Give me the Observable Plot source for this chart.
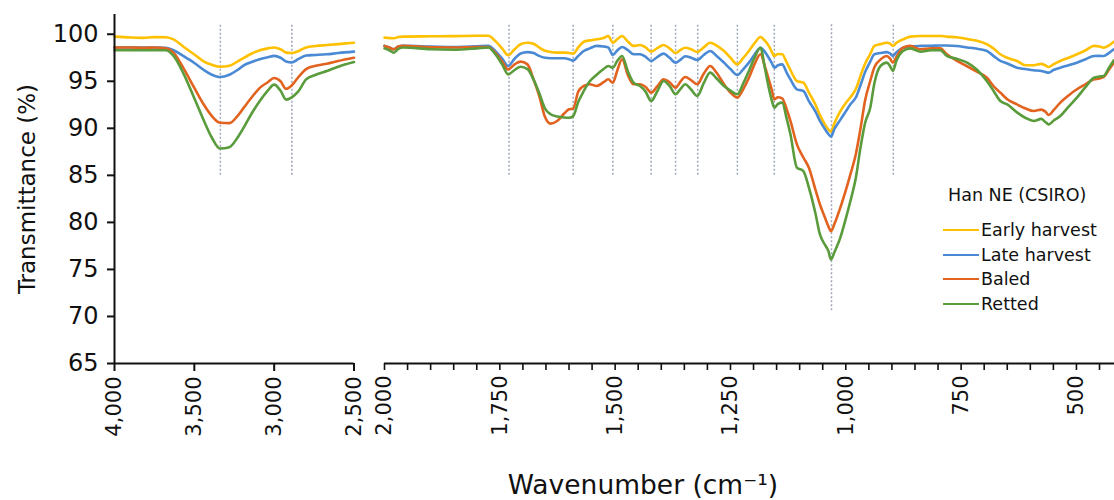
<!DOCTYPE html>
<html><head><meta charset="utf-8">
<script src="https://cdn.jsdelivr.net/npm/d3@7"></script>
<script src="https://cdn.jsdelivr.net/npm/@observablehq/plot@0.6"></script>
<style>
html,body{margin:0;padding:0;background:#fff;}
#chart{position:relative;width:1114px;height:500px;font-family:"DejaVu Sans",sans-serif;color:#111;overflow:hidden;}
#left{position:absolute;left:0;top:0;}
#right{position:absolute;left:374px;top:0;}
.ylab{position:absolute;left:27px;top:189px;transform:translate(-50%,-50%) rotate(-90deg);font-size:23px;white-space:nowrap;}
.xlab{position:absolute;left:643px;top:484px;transform:translate(-50%,-50%);font-size:26.5px;white-space:nowrap;}
.lg{position:absolute;font-size:17.5px;white-space:nowrap;line-height:1;}
.sw{display:inline-block;width:36px;height:2px;vertical-align:middle;margin-right:2px;position:relative;top:-1px;}
</style></head><body>
<div id="chart">
  <div id="left"></div>
  <div id="right"></div>
  <div class="ylab">Transmittance (%)</div>
  <div class="xlab">Wavenumber (cm⁻¹)</div>
  <div id="legend"></div>
</div>
<script>
// ---------- data ----------
const seriesNames = ["Early harvest", "Late harvest", "Baled", "Retted"];
const seriesColors = ["#FFC000", "#4A8AD4", "#E2631F", "#5A9B3C"];
const legendTitle = "Han NE (CSIRO)";

const yTicks = [65, 70, 75, 80, 85, 90, 95, 100];
const leftTicks = [4000, 3500, 3000, 2500];
const rightMajorTicks = [2000, 1750, 1500, 1250, 1000, 750, 500];

// band markers (dotted verticals)
const leftBands = [3337, 2889];
const leftBandLow = [85, 85];
const rightBands = [1730, 1591, 1505, 1422, 1369, 1321, 1235, 1155, 1031, 897];
const rightBandLow = [85, 85, 85, 85, 85, 85, 85, 85, 70.6, 85];
const bandHigh = 101.1;

// left panel (4000–2500 cm-1)
const leftWn = [4000,3900,3820,3750,3680,3630,3570,3500,3440,3390,3340,3280,3230,3190,3140,3090,3040,3000,2960,2925,2890,2850,2800,2740,2670,2600,2500];
const earlyLeft = [99.75,99.65,99.62,99.7,99.68,99.45,98.7,97.85,97.1,96.75,96.55,96.65,97.1,97.5,97.95,98.3,98.5,98.6,98.4,98.05,98.0,98.2,98.6,98.75,98.85,98.95,99.1];
const lateLeft = [98.6,98.6,98.6,98.6,98.55,98.3,97.7,96.95,96.2,95.7,95.45,95.7,96.2,96.7,97.05,97.35,97.55,97.7,97.5,97.1,97.0,97.35,97.75,97.8,97.87,98.0,98.15];
const baledLeft = [98.6,98.6,98.55,98.6,98.5,98.05,96.45,94.3,92.5,91.3,90.6,90.55,91.3,92.2,93.3,94.3,94.9,95.35,95.0,94.2,94.55,95.4,96.3,96.65,96.87,97.15,97.5];
const rettedLeft = [98.3,98.3,98.3,98.3,98.3,97.7,95.9,93.2,90.8,89.0,87.85,88.0,89.0,90.1,91.6,92.9,94.0,94.65,94.0,93.05,93.3,93.9,95.2,95.7,96.1,96.55,97.05];

// right panel (2000–~420 cm-1)
const rightWn = [2000,1990,1980,1970,1960,1900,1850,1800,1775,1760,
1745,1732,1718,1705,1690,1677,1665,1652,1640,1625,
1610,1600,1591,1580,1568,1555,1540,1525,1515,1505,
1495,1485,1472,1460,1446,1434,1422,1408,1395,1382,
1369,1358,1348,1335,1322,1308,1294,1280,1264,1250,
1235,1222,1210,1197,1185,1175,1167,1160,1155,1147,
1138,1128,1120,1106,1092,1080,1066,1056,1045,1038,
1032,1025,1012,1000,990,978,968,958,947,938,
925,911,904,898,890,876,860,838,815,795,
781,760,737,715,694,680,665,650,629,610,
593,576,568,560,550,535,517,499,480,462,
450,441,430,419];
const earlyRight = [99.64,99.6,99.57,99.7,99.75,99.78,99.8,99.84,99.84,99.3,
98.5,97.77,98.4,98.94,99.1,99.0,98.6,98.25,98.12,98.05,
98.05,98.0,97.94,98.6,99.21,99.35,99.47,99.6,99.82,99.1,
99.5,99.82,99.2,98.76,98.86,98.6,98.15,98.55,98.86,98.5,
98.0,98.35,98.57,98.4,98.12,98.6,99.1,98.8,98.22,97.5,
96.8,97.5,98.22,99.1,99.71,99.3,98.76,98.1,97.69,97.9,
97.87,97.0,96.2,95.03,94.85,93.8,92.55,91.4,90.4,89.9,
89.64,90.5,91.8,92.7,93.3,94.2,95.6,96.9,97.9,98.76,
98.95,99.1,99.0,98.76,99.1,99.45,99.75,99.82,99.82,99.82,
99.75,99.68,99.5,99.3,98.94,98.5,97.87,97.5,97.16,96.7,
96.7,96.85,96.7,96.52,96.8,97.16,97.5,97.87,98.3,98.76,
98.7,98.57,98.8,99.21];
const lateRight = [98.76,98.6,98.4,98.7,98.76,98.7,98.65,98.72,98.76,98.22,
97.4,96.63,97.4,97.95,98.1,98.0,97.7,97.5,97.45,97.45,
97.45,97.35,97.2,97.7,98.22,98.5,98.76,98.7,98.6,97.8,
98.3,98.65,98.3,97.87,97.87,97.6,97.16,97.6,97.94,97.5,
96.98,97.3,97.66,97.5,97.27,97.8,98.22,97.7,96.98,96.3,
95.67,96.3,96.98,97.9,98.57,98.1,97.5,96.9,96.45,96.7,
96.8,95.9,95.2,94.15,93.97,92.9,91.8,90.78,89.9,89.4,
89.11,89.9,90.9,91.8,92.55,93.3,94.6,96.0,97.1,97.87,
98.0,98.1,97.95,97.69,98.1,98.57,98.7,98.76,98.78,98.8,
98.8,98.75,98.6,98.45,98.22,97.7,97.16,96.9,96.45,96.3,
96.17,96.1,96.0,95.92,96.2,96.45,96.7,96.98,97.35,97.69,
97.7,97.69,98.0,98.4];
const baledRight = [98.76,98.6,98.4,98.7,98.76,98.62,98.6,98.65,98.65,98.04,
97.1,96.27,96.8,97.09,96.8,95.2,93.5,91.2,90.5,90.8,
91.6,92.02,92.1,93.9,94.5,94.68,94.5,94.9,95.21,94.85,
96.2,97.34,95.6,94.68,94.68,94.4,93.79,94.5,95.21,94.9,
94.32,95.0,95.46,95.1,94.68,95.8,96.63,95.9,94.68,93.8,
93.26,94.2,95.38,96.9,97.87,96.5,95.21,94.0,93.08,93.3,
93.19,92.0,90.78,88.3,86.9,85.8,83.5,81.9,80.49,79.6,
79.07,79.8,81.55,83.4,85.1,87.3,90.0,93.0,95.03,96.5,
97.3,97.69,97.4,96.98,97.6,98.57,98.76,98.4,98.5,98.5,
97.87,97.2,96.6,96.0,95.38,94.5,93.79,93.1,92.55,92.1,
91.84,91.99,91.8,91.41,91.9,92.73,93.5,94.15,94.7,95.21,
95.3,95.46,96.2,96.98];
const rettedRight = [98.5,98.3,98.04,98.45,98.6,98.4,98.35,98.5,98.6,97.9,
96.8,95.74,96.2,96.55,96.3,95.21,93.8,92.1,91.5,91.25,
91.15,91.13,91.3,92.8,93.97,95.0,95.7,96.3,96.63,96.45,
97.2,97.69,96.0,94.85,94.5,93.9,92.9,94.0,95.03,94.5,
93.62,94.2,94.68,94.1,93.44,94.8,95.92,95.3,94.5,94.0,
93.62,94.8,96.1,97.6,98.57,96.3,94.32,92.9,92.19,92.6,
92.73,91.0,89.36,85.82,85.46,83.7,81.0,78.72,77.6,77.0,
76.06,76.8,78.36,80.4,82.27,84.8,88.0,90.6,92.19,94.8,
96.6,96.98,96.6,96.1,97.2,98.22,98.5,98.15,98.3,98.3,
97.69,97.4,96.98,96.2,95.0,94.0,92.9,92.55,91.7,91.1,
90.78,91.0,90.7,90.42,90.8,91.31,92.3,93.26,94.4,95.38,
95.5,95.56,96.4,97.23];

// ---------- build tables ----------
function rows(wn, lists) {
  const out = [];
  lists.forEach((vals, k) => wn.forEach((w, i) => out.push({wn: w, v: vals[i], s: seriesNames[k]})));
  return out;
}
const leftRows = rows(leftWn, [earlyLeft, lateLeft, baledLeft, rettedLeft]);
const rightRows = rows(rightWn, [earlyRight, lateRight, baledRight, rettedRight]);
const leftBandRows = leftBands.map((w, i) => ({wn: w, lo: leftBandLow[i], hi: bandHigh}));
const rightBandRows = rightBands.map((w, i) => ({wn: w, lo: rightBandLow[i], hi: bandHigh}));

const fmt = d3.format(",");
const yDomain = [65, 102.1];
const colorScale = {domain: seriesNames, range: seriesColors};
const style = {fontFamily: "DejaVu Sans, sans-serif", color: "#111", background: "transparent", overflow: "visible"};
const bandStyle = {x: "wn", y1: "lo", y2: "hi", stroke: "#9ea6b8", strokeWidth: 1.5, strokeDasharray: "2,2"};
const lineStyle = {x: "wn", y: "v", z: "s", stroke: "s", strokeWidth: 2.6, curve: "monotone-x", strokeLinejoin: "round"};

const left = Plot.plot({
  width: 362, height: 440,
  marginLeft: 114, marginRight: 8.5, marginTop: 14, marginBottom: 77,
  x: {domain: [4000, 2500]},
  y: {domain: yDomain},
  color: colorScale,
  style,
  marks: [
    Plot.ruleX(leftBandRows, bandStyle),
    Plot.lineY(leftRows, lineStyle),
    Plot.ruleX([4000], {stroke: "#111", strokeWidth: 2}),
    Plot.ruleY([65], {stroke: "#111", strokeWidth: 2}),
    Plot.axisY({ticks: yTicks, tickSize: 7, tickPadding: 9, fontSize: 24, label: null, strokeWidth: 2}),
    Plot.axisX({ticks: leftTicks, tickFormat: fmt, tickRotate: -90, tickSize: 8, tickPadding: 5, fontSize: 21, label: null, strokeWidth: 2})
  ]
});
document.getElementById("left").append(left);

const minor = d3.range(2000, 417, -50);
const right = Plot.plot({
  width: 740, height: 440,
  marginLeft: 10, marginRight: 0, marginTop: 14, marginBottom: 77,
  x: {domain: [2000, 417.5]},
  y: {domain: yDomain, axis: null},
  color: colorScale,
  style,
  marks: [
    Plot.ruleX(rightBandRows, bandStyle),
    Plot.lineY(rightRows, lineStyle),
    Plot.ruleY([65], {stroke: "#111", strokeWidth: 2}),
    Plot.axisX({ticks: minor, tickFormat: d => rightMajorTicks.includes(d) ? fmt(d) : "", tickRotate: -90, tickSize: 7, tickPadding: 5, fontSize: 21, label: null, strokeWidth: 1.6})
  ]
});
document.getElementById("right").append(right);

// legend
const lg = document.getElementById("legend");
const t = document.createElement("div");
t.className = "lg"; t.style.left = "948px"; t.style.top = "187px"; t.textContent = legendTitle;
lg.append(t);
const legendY = [222, 246.5, 271, 296];
seriesNames.forEach((n, i) => {
  const d = document.createElement("div");
  d.className = "lg"; d.style.left = "943px"; d.style.top = legendY[i] + "px";
  const sw = document.createElement("span"); sw.className = "sw"; sw.style.background = seriesColors[i];
  d.append(sw, document.createTextNode(n));
  lg.append(d);
});
</script>
</body></html>
